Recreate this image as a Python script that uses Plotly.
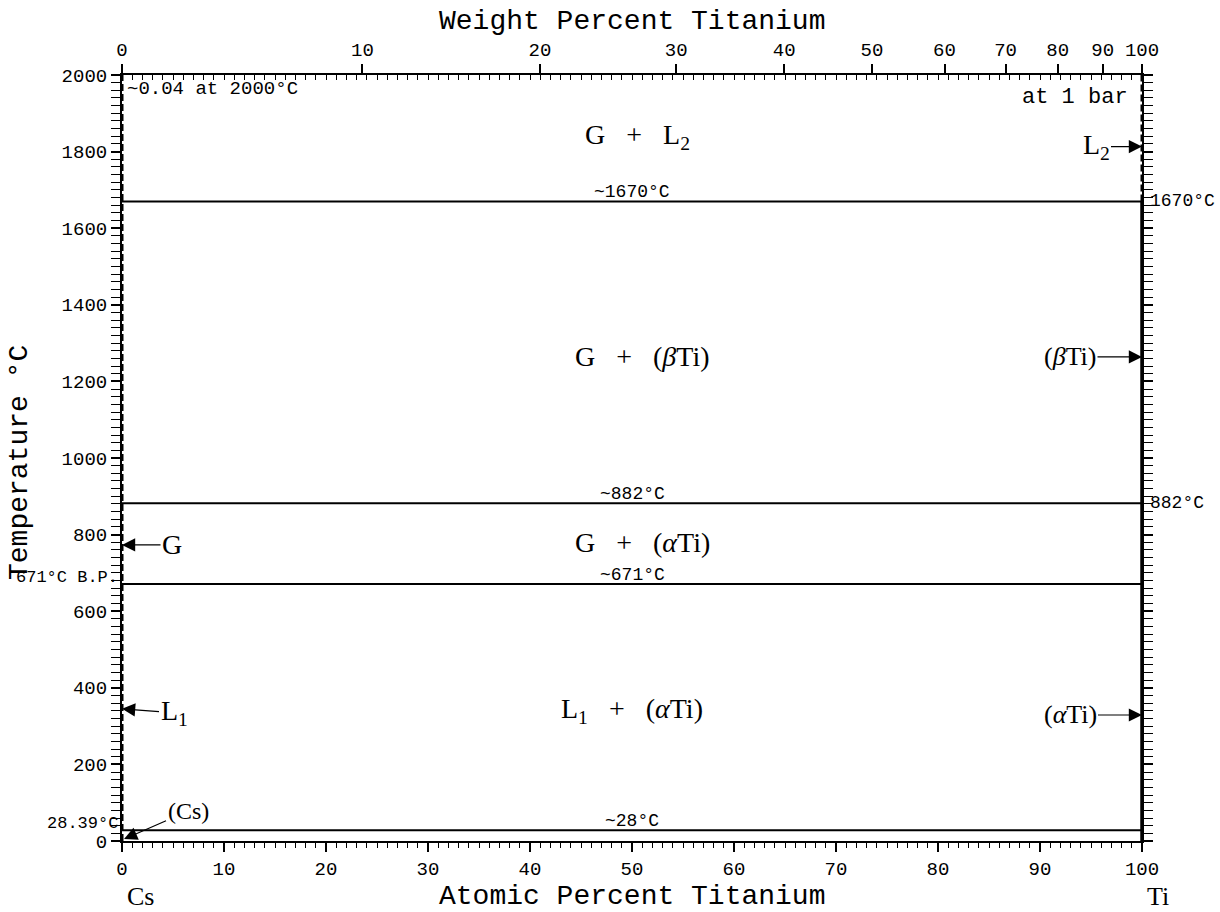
import plotly.graph_objects as go

# ---- data ----
M_TI = 47.867
M_CS = 132.905
wt_ticks = [0, 10, 20, 30, 40, 50, 60, 70, 80, 90, 100]
iso_temps = [1670, 882, 671, 28.39]          # invariant horizontal lines (°C)
iso_labels = ["~1670°C", "~882°C", "~671°C", "~28°C"]
right_temp_labels = [("1670°C", 1670), ("882°C", 882)]
left_temp_labels = [("671°C B.P.", 671), ("28.39°C", 28.39)]
regions = [("G   +   L<sub>2</sub>", 50.5, 1840),
           ("G   +   (<i>β</i>Ti)", 51, 1265),
           ("G   +   (<i>α</i>Ti)", 51, 780),
           ("L<sub>1</sub>   +   (<i>α</i>Ti)", 50, 340)]
ti_phase_temp_bounds = [0, 1670, 2000]        # Ti side: solid to 1670, dashed above
cs_side_bounds = [0, 2000]

def wt_to_at(w):
    if w <= 0:
        return 0.0
    if w >= 100:
        return 100.0
    a = w / M_TI
    b = (100 - w) / M_CS
    return 100 * a / (a + b)

fig = go.Figure()

for t in iso_temps:
    fig.add_trace(go.Scatter(x=[0, 100], y=[t, t], mode="lines",
                             line=dict(color="black", width=2), showlegend=False, hoverinfo="skip"))

fig.add_trace(go.Scatter(x=[0, 0], y=cs_side_bounds, mode="lines",
                         line=dict(color="black", width=3, dash="7px,3px"), showlegend=False, hoverinfo="skip"))
fig.add_trace(go.Scatter(x=[100, 100], y=ti_phase_temp_bounds[:2], mode="lines",
                         line=dict(color="black", width=3.5), showlegend=False, hoverinfo="skip"))
fig.add_trace(go.Scatter(x=[100, 100], y=ti_phase_temp_bounds[1:], mode="lines",
                         line=dict(color="black", width=3, dash="7px,3px"), showlegend=False, hoverinfo="skip"))
fig.add_trace(go.Scatter(x=[0, 100], y=[0, 0], xaxis="x2", mode="lines",
                         line=dict(width=0), opacity=0, showlegend=False, hoverinfo="skip"))

MONO = "Liberation Mono"
SERIF = "Liberation Serif"
BLK = "black"
ann = []
for txt, x, y in regions:
    ann.append(dict(x=x, y=y, text=txt, showarrow=False, font=dict(family=SERIF, size=28, color=BLK)))
for t, lab in zip(iso_temps, iso_labels):
    ann.append(dict(x=50, y=t, text=lab, showarrow=False, yanchor="bottom", yshift=-3,
                    font=dict(family=MONO, size=18, color=BLK)))
for lab, t in right_temp_labels:
    ann.append(dict(x=100, y=t, text=lab, showarrow=False, xanchor="left", xshift=6,
                    font=dict(family=MONO, size=18, color=BLK)))
for lab, t in left_temp_labels:
    ann.append(dict(x=0, y=t, text=lab, showarrow=False, xanchor="right", xshift=-2, yanchor="bottom",
                    yshift=-5, font=dict(family=MONO, size=17, color=BLK)))

ann.append(dict(x=0, y=2000, text="~0.04 at 2000°C", showarrow=False, xanchor="left", yanchor="top",
                xshift=3, yshift=-1, font=dict(family=MONO, size=19, color=BLK)))
ann.append(dict(x=100, y=2000, text="at 1 bar", showarrow=False, xanchor="right", yanchor="top",
                xshift=-12, yshift=-8, font=dict(family=MONO, size=22, color=BLK)))

arrow_style = dict(showarrow=True, arrowhead=2, arrowsize=2.2, arrowwidth=1.2, arrowcolor=BLK)
ann.append(dict(x=100, y=1813, text="L<sub>2</sub>", ax=-46, ay=0,
                font=dict(family=SERIF, size=28, color=BLK), **arrow_style))
ann.append(dict(x=100, y=1264, text="(<i>β</i>Ti)", ax=-72, ay=0,
                font=dict(family=SERIF, size=26, color=BLK), **arrow_style))
ann.append(dict(x=100, y=329, text="(<i>α</i>Ti)", ax=-72, ay=0,
                font=dict(family=SERIF, size=26, color=BLK), **arrow_style))
ann.append(dict(x=0, y=773, text="G", ax=50, ay=0,
                font=dict(family=SERIF, size=28, color=BLK), **arrow_style))
ann.append(dict(x=0, y=345, text="L<sub>1</sub>", ax=52, ay=4,
                font=dict(family=SERIF, size=28, color=BLK), **arrow_style))
ann.append(dict(x=0.2, y=5, text="(Cs)", ax=64, ay=-28,
                font=dict(family=SERIF, size=24, color=BLK), **arrow_style))

# element labels & axis titles
ann.append(dict(x=0, y=-0.073, xref="x", yref="paper", yanchor="middle", text="Cs", showarrow=False,
                xshift=18, font=dict(family=SERIF, size=26, color=BLK)))
ann.append(dict(x=100, y=-0.073, xref="x", yref="paper", yanchor="middle", text="Ti", showarrow=False,
                xshift=16, font=dict(family=SERIF, size=26, color=BLK)))
ann.append(dict(x=0.5, y=-0.073, xref="paper", yref="paper", yanchor="middle", text="Atomic Percent Titanium",
                showarrow=False, font=dict(family=MONO, size=28, color=BLK)))
ann.append(dict(x=0.5, y=1.0, xref="paper", yref="paper", yanchor="middle", yshift=54,
                text="Weight Percent Titanium", showarrow=False, font=dict(family=MONO, size=28, color=BLK)))
ann.append(dict(x=0, y=0.5, xref="paper", yref="paper", xanchor="center", yanchor="middle", xshift=-103,
                yshift=-5, textangle=-90, text="Temperature °C", showarrow=False,
                font=dict(family=MONO, size=28, color=BLK)))

fig.update_layout(
    width=1220, height=912,
    margin=dict(l=122, r=78, t=75, b=71),
    plot_bgcolor="white", paper_bgcolor="white",
    annotations=ann,
    xaxis=dict(range=[0, 100], tickvals=list(range(0, 101, 10)), showgrid=False, zeroline=False,
               automargin=False, showline=True, linecolor=BLK, linewidth=2,
               ticks="outside", ticklen=9, tickwidth=1.5, tickcolor=BLK,
               minor=dict(ticks="outside", dtick=1, ticklen=5, tickcolor=BLK, tickwidth=1),
               tickfont=dict(family=MONO, size=19, color=BLK)),
    xaxis2=dict(range=[0, 100], overlaying="x", side="top", automargin=False,
                tickvals=[wt_to_at(w) for w in wt_ticks], ticktext=[str(w) for w in wt_ticks],
                showgrid=False, zeroline=False, showline=True, linecolor=BLK, linewidth=2,
                ticks="outside", ticklen=9, tickwidth=1.5, tickcolor=BLK,
                minor=dict(ticks="inside", tickmode="linear", tick0=0, dtick=1, ticklen=5,
                           tickcolor=BLK, tickwidth=1),
                tickfont=dict(family=MONO, size=19, color=BLK)),
    yaxis=dict(range=[0, 2000], tickvals=list(range(0, 2001, 200)), showgrid=False, zeroline=False,
               automargin=False, showline=True, linecolor=BLK, linewidth=2, mirror="allticks",
               ticks="outside", ticklen=9, tickwidth=1.5, tickcolor=BLK,
               minor=dict(ticks="outside", dtick=20, ticklen=5, tickcolor=BLK, tickwidth=1),
               tickfont=dict(family=MONO, size=19, color=BLK)),
)

fig.write_html("out.html", config={"displayModeBar": False},
               post_script="document.body.style.margin='0';")
